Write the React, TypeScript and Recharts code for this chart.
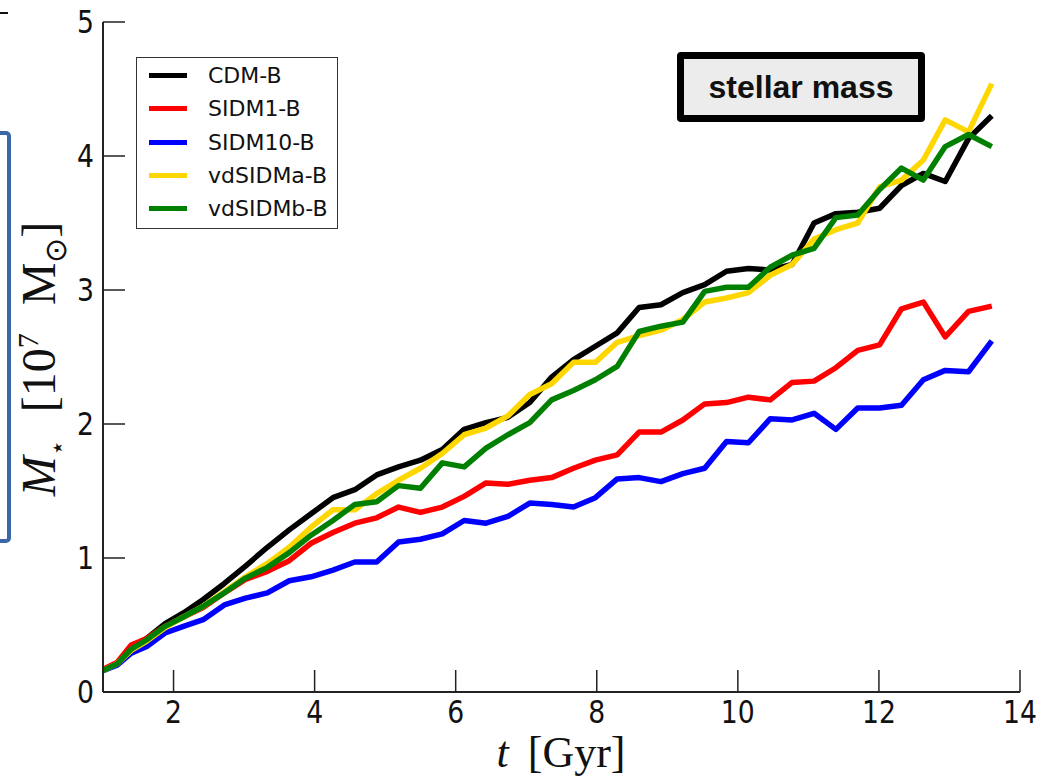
import { LineChart, Line, XAxis, YAxis } from "recharts";

// simulation snapshot times [Gyr]
const times = [
  1.0, 1.2, 1.4, 1.62, 1.88, 2.14, 2.42, 2.72, 3.02, 3.33, 3.64,
  3.95, 4.26, 4.57, 4.88, 5.19, 5.5, 5.81, 6.12, 6.43, 6.74,
  7.05, 7.36, 7.67, 7.98, 8.29, 8.6, 8.91, 9.22, 9.53, 9.84,
  10.15, 10.46, 10.77, 11.08, 11.39, 11.7, 12.01, 12.32, 12.63, 12.94,
  13.27, 13.6,
];

// stellar mass [10^7 Msun]
const cdmB = [
  0.16, 0.21, 0.33, 0.4, 0.51, 0.59, 0.69, 0.81, 0.94, 1.08, 1.21,
  1.33, 1.45, 1.51, 1.62, 1.68, 1.73, 1.81, 1.96, 2.01, 2.05,
  2.16, 2.35, 2.48, 2.58, 2.68, 2.87, 2.89, 2.98, 3.04, 3.14,
  3.16, 3.15, 3.19, 3.5, 3.57, 3.58, 3.61, 3.78, 3.87, 3.81,
  4.13, 4.3,
];
const sidm1B = [
  0.17, 0.22, 0.35, 0.4, 0.49, 0.56, 0.63, 0.74, 0.84, 0.9, 0.98,
  1.11, 1.19, 1.26, 1.3, 1.38, 1.34, 1.38, 1.46, 1.56, 1.55,
  1.58, 1.6, 1.67, 1.73, 1.77, 1.94, 1.94, 2.03, 2.15, 2.16,
  2.2, 2.18, 2.31, 2.32, 2.42, 2.55, 2.59, 2.86, 2.91, 2.65,
  2.84, 2.88,
];
const sidm10B = [
  0.16, 0.2, 0.29, 0.34, 0.44, 0.49, 0.54, 0.65, 0.7, 0.74, 0.83,
  0.86, 0.91, 0.97, 0.97, 1.12, 1.14, 1.18, 1.28, 1.26, 1.31,
  1.41, 1.4, 1.38, 1.45, 1.59, 1.6, 1.57, 1.63, 1.67, 1.87,
  1.86, 2.04, 2.03, 2.08, 1.96, 2.12, 2.12, 2.14, 2.33, 2.4,
  2.39, 2.62,
];
const vdSidmaB = [
  0.16, 0.21, 0.31, 0.38, 0.48, 0.56, 0.64, 0.75, 0.86, 0.96, 1.08,
  1.23, 1.36, 1.36, 1.48, 1.58, 1.67, 1.78, 1.92, 1.97, 2.06,
  2.22, 2.3, 2.46, 2.46, 2.61, 2.66, 2.7, 2.78, 2.91, 2.94,
  2.98, 3.11, 3.19, 3.38, 3.45, 3.5, 3.77, 3.82, 3.97, 4.27,
  4.18, 4.54,
];
const vdSidmbB = [
  0.16, 0.21, 0.32, 0.39, 0.49, 0.56, 0.64, 0.74, 0.85, 0.93, 1.04,
  1.17, 1.28, 1.4, 1.42, 1.54, 1.52, 1.71, 1.68, 1.82, 1.92,
  2.01, 2.18, 2.25, 2.33, 2.43, 2.69, 2.73, 2.76, 2.99, 3.02,
  3.02, 3.17, 3.26, 3.31, 3.54, 3.56, 3.75, 3.91, 3.82, 4.07,
  4.16, 4.07,
];

const xTicks = [2, 4, 6, 8, 10, 12, 14];
const yTicks = [0, 1, 2, 3, 4, 5];

const series = [
  { key: "cdm", name: "CDM-B", color: "#000000" },
  { key: "sidm1", name: "SIDM1-B", color: "#ff0000" },
  { key: "sidm10", name: "SIDM10-B", color: "#0000ff" },
  { key: "vdA", name: "vdSIDMa-B", color: "#ffd700" },
  { key: "vdB", name: "vdSIDMb-B", color: "#008000" },
];

const rows = times.map((t, i) => ({
  t,
  cdm: cdmB[i],
  sidm1: sidm1B[i],
  sidm10: sidm10B[i],
  vdA: vdSidmaB[i],
  vdB: vdSidmbB[i],
}));

const TICK_LEN = 22;
const FRAME = "#222";
const tickFont = { fontFamily: "DejaVu Sans", fontSize: 29, fill: "#111" };

// tall, slightly narrow digits
function TickText({ x, y, anchor, children }: any) {
  return (
    <text
      transform={`translate(${x},${y}) scale(0.92,1.12)`}
      textAnchor={anchor}
      {...tickFont}
    >
      {children}
    </text>
  );
}

function BottomTick({ x, y, payload }: any) {
  return (
    <g>
      <line x1={x} x2={x} y1={y} y2={y - TICK_LEN} stroke={FRAME} strokeWidth={1.5} />
      <TickText x={x} y={y + 31} anchor="middle">
        {payload.value}
      </TickText>
    </g>
  );
}

function TopTick({ x, y }: any) {
  return <line x1={x} x2={x} y1={y} y2={y + TICK_LEN} stroke={FRAME} strokeWidth={1.5} />;
}

function LeftTick({ x, y, payload }: any) {
  return (
    <g>
      <line x1={x} x2={x + TICK_LEN} y1={y} y2={y} stroke={FRAME} strokeWidth={1.5} />
      <TickText x={x - 9} y={y + 11} anchor="end">
        {payload.value}
      </TickText>
    </g>
  );
}

function RightTick({ x, y }: any) {
  return <line x1={x} x2={x - TICK_LEN} y1={y} y2={y} stroke={FRAME} strokeWidth={1.5} />;
}

function LegendBox() {
  return (
    <div
      style={{
        position: "absolute",
        left: 136,
        top: 57,
        boxSizing: "border-box",
        width: 202,
        height: 172,
        border: "1.5px solid #333",
        background: "#fff",
        padding: "1px 0 0 12px",
        fontFamily: "DejaVu Sans",
        fontSize: 22,
        color: "#111",
      }}
    >
      {series.map((s) => (
        <div key={s.key} style={{ display: "flex", alignItems: "center", height: 33.3 }}>
          <span style={{ width: 38, height: 5, background: s.color, marginRight: 21 }} />
          {s.name}
        </div>
      ))}
    </div>
  );
}

export default function App() {
  return (
    <div style={{ position: "absolute", left: 0, top: 0, width: 1055, height: 776, background: "#fff" }}>
      <LineChart
        width={1055}
        height={776}
        data={rows}
        margin={{ top: 22, right: 35, bottom: 44, left: 43 }}
      >
        <XAxis
          dataKey="t"
          type="number"
          domain={[1, 14]}
          ticks={xTicks}
          allowDataOverflow
          height={40}
          tickSize={0}
          tickMargin={0}
          tickLine={false}
          axisLine={{ stroke: FRAME, strokeWidth: 2 }}
          tick={BottomTick}
        />
        <XAxis
          xAxisId="top"
          orientation="top"
          type="number"
          domain={[1, 14]}
          ticks={xTicks}
          allowDataOverflow
          height={0}
          tickSize={0}
          tickMargin={0}
          tickLine={false}
          axisLine={{ stroke: FRAME, strokeWidth: 2 }}
          tick={TopTick}
        />
        <YAxis
          type="number"
          domain={[0, 5]}
          ticks={yTicks}
          allowDataOverflow
          width={60}
          tickSize={0}
          tickMargin={0}
          tickLine={false}
          axisLine={{ stroke: FRAME, strokeWidth: 2 }}
          tick={LeftTick}
        />
        <YAxis
          yAxisId="right"
          orientation="right"
          type="number"
          domain={[0, 5]}
          ticks={yTicks}
          allowDataOverflow
          width={0}
          tickSize={0}
          tickMargin={0}
          tickLine={false}
          axisLine={{ stroke: FRAME, strokeWidth: 2 }}
          tick={RightTick}
        />
        {series.map((s) => (
          <Line
            key={s.key}
            type="linear"
            dataKey={s.key}
            name={s.name}
            stroke={s.color}
            strokeWidth={5.5}
            strokeLinejoin="round"
            dot={false}
            isAnimationActive={false}
          />
        ))}
      </LineChart>

      <LegendBox />

      {/* annotation box */}
      <div
        style={{
          position: "absolute",
          left: 677,
          top: 52,
          width: 248,
          height: 70,
          boxSizing: "border-box",
          border: "7px solid #000",
          borderRadius: 4,
          background: "#ececec",
          display: "flex",
          alignItems: "center",
          justifyContent: "center",
          fontFamily: "Liberation Sans",
          fontWeight: 700,
          fontSize: 32,
          color: "#111",
        }}
      >
        stellar mass
      </div>

      {/* axis titles */}
      <div
        style={{
          position: "absolute",
          left: 561,
          top: 752,
          transform: "translate(-50%, -50%)",
          whiteSpace: "nowrap",
          fontFamily: "Liberation Serif",
          fontSize: 44,
          color: "#111",
          wordSpacing: 8,
        }}
      >
        <i>t</i> [Gyr]
      </div>
      <div
        style={{
          position: "absolute",
          left: 42,
          top: 359,
          transform: "translate(-50%, -50%) rotate(-90deg)",
          whiteSpace: "nowrap",
          fontFamily: "Liberation Serif",
          fontSize: 48,
          color: "#111",
          wordSpacing: 16,
        }}
      >
        <i>M</i>
        <sub style={{ fontSize: 26 }}>⋆</sub> [10
        <sup style={{ fontSize: 30 }}>7</sup> M
        <sub style={{ fontSize: 30 }}>⊙</sub>]
      </div>

      {/* page decorations at the left margin */}
      <div
        style={{
          position: "absolute",
          left: -20,
          top: 131,
          width: 31,
          height: 412,
          boxSizing: "border-box",
          border: "4px solid #3a67a6",
          borderRadius: 5,
        }}
      />
      <div style={{ position: "absolute", left: 0, top: 12, width: 8, height: 2, background: "#111" }} />
    </div>
  );
}
